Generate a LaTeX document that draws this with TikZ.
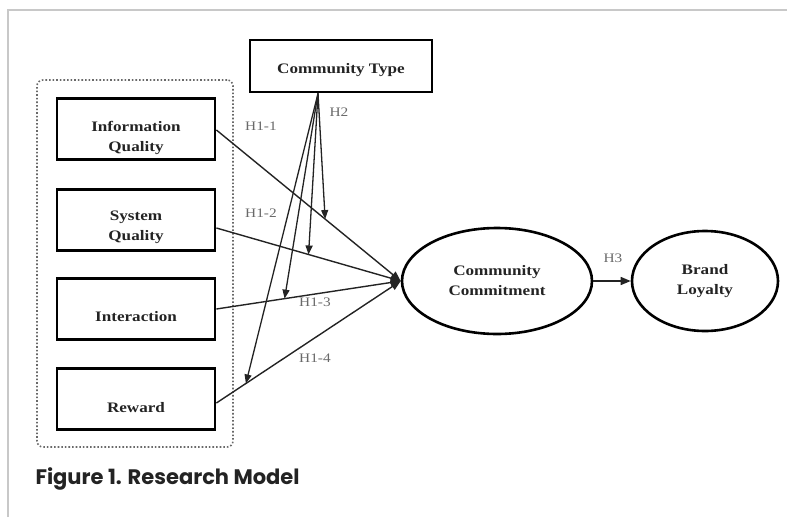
\documentclass[tikz,border=0pt]{standalone}
\usepackage{fontspec}
\setmainfont{Liberation Serif}
\newfontfamily\modelfont[FakeStretch=1.18]{Liberation Serif}
\newfontfamily\captionfont{Poppins}
\usepackage{tikz}
\usetikzlibrary{arrows.meta, positioning, calc, shapes.geometric}
\usepackage{xcolor}
\definecolor{inkgray}{RGB}{35,35,35}
\definecolor{hypgray}{RGB}{105,105,105}
\definecolor{framegray}{RGB}{200,200,200}

\begin{document}
\begin{tikzpicture}[x=1pt, y=-1pt,
    construct/.style={draw=black, line width=2.8pt, minimum width=158pt, minimum height=61pt, inner sep=0pt},
    boxtext/.style={font=\modelfont\bfseries\fontsize{14.5}{20}\selectfont, text=inkgray, align=center},
    latent/.style={draw=black, line width=2.6pt, ellipse, minimum width=190pt, minimum height=106pt, inner sep=0pt, font=\modelfont\bfseries\fontsize{14.5}{20}\selectfont, text=inkgray, align=center},
    hyp/.style={font=\modelfont\fontsize{13}{15}\selectfont, text=hypgray},
    path/.style={-{Triangle[length=10pt, width=8pt]}, line width=1.4pt, draw=inkgray},
    moderate/.style={-{Triangle[length=9pt, width=7pt]}, line width=1.3pt, draw=inkgray}]
  \useasboundingbox (0,0) rectangle (787,517);
  % page edge
  \draw[framegray, line width=1.5pt] (8,517) -- (8,10) -- (787,10);
  % group of antecedents
  \node[draw=hypgray, dotted, line width=1.6pt, rounded corners=6pt, minimum width=196pt, minimum height=367pt] (grp) at (135,263.5) {};
  \node[construct, label={[boxtext, yshift=-9pt]center:Information\\Quality}] (info) at (136,129) {};
  \node[construct, label={[boxtext, yshift=-7pt]center:System\\Quality}] (sys) at (136,220) {};
  \node[construct, label={[boxtext, yshift=-8pt]center:Interaction}] (inter) at (136,309) {};
  \node[construct, label={[boxtext, yshift=-9pt]center:Reward}] (rew) at (136,399) {};
  \node[construct, minimum width=182pt, minimum height=52pt, label={[boxtext, yshift=-4pt]center:Community Type}] (ctype) at (341,66) {};
  \node[latent] (comm) at (497,281) {Community\\Commitment};
  \node[latent, minimum width=146pt, minimum height=100pt] (loyal) at (705,281) {Brand\\Loyalty};
  % direct effects
  \draw[path] ($(info.east)+(0,1)$) -- coordinate[pos=0.59] (m1) (comm.west);
  \draw[path] ($(sys.east)+(0,8)$) -- coordinate[pos=0.5] (m2) (comm.west);
  \draw[path] (inter.east) -- coordinate[pos=0.37] (m3) (comm.west);
  \draw[path] ($(rew.east)+(0,4)$) -- coordinate[pos=0.16] (m4) (comm.west);
  \draw[path] (comm.east) -- (loyal.west);
  % moderation
  \coordinate (src) at ($(ctype.south)+(-23,0)$);
  \draw[moderate] (src) -- (m1);
  \draw[moderate] (src) -- (m2);
  \draw[moderate] (src) -- (m3);
  \draw[moderate] (src) -- (m4);
  % hypotheses
  \node[hyp] (h11) at (261,126) {H1-1};
  \node[hyp] (h12) at (261,213) {H1-2};
  \node[hyp] (h13) at (315,302) {H1-3};
  \node[hyp] (h14) at (315,358) {H1-4};
  \node[hyp] (h2) at (339,112) {H2};
  \node[hyp] (h3) at (613,258) {H3};
  % caption
  \node[font=\captionfont\bfseries\fontsize{21}{24}\selectfont, text=inkgray, anchor=west] (cap) at (32,479) {Figure 1. Research Model};
\end{tikzpicture}
\end{document}
